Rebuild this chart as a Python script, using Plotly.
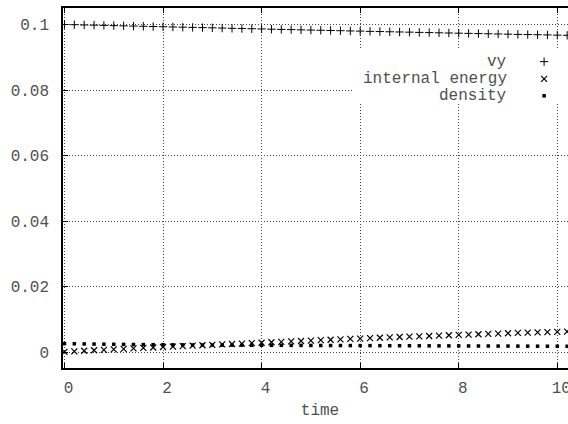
import plotly.graph_objects as go

time = [0.0, 0.2, 0.4, 0.6, 0.8, 1.0, 1.2, 1.4, 1.6, 1.8, 2.0, 2.2, 2.4, 2.6, 2.8,
        3.0, 3.2, 3.4, 3.6, 3.8, 4.0, 4.2, 4.4, 4.6, 4.8, 5.0, 5.2, 5.4, 5.6, 5.8,
        6.0, 6.2, 6.4, 6.6, 6.8, 7.0, 7.2, 7.4, 7.6, 7.8, 8.0, 8.2, 8.4, 8.6, 8.8,
        9.0, 9.2, 9.4, 9.6, 9.8, 10.0, 10.2, 10.4]

vy = [0.10000, 0.09993, 0.09986, 0.09980, 0.09973, 0.09966, 0.09959, 0.09952, 0.09946,
      0.09939, 0.09932, 0.09925, 0.09918, 0.09912, 0.09905, 0.09898, 0.09891, 0.09884,
      0.09878, 0.09871, 0.09864, 0.09857, 0.09850, 0.09844, 0.09837, 0.09830, 0.09824,
      0.09817, 0.09811, 0.09804, 0.09798, 0.09791, 0.09785, 0.09778, 0.09772, 0.09766,
      0.09759, 0.09753, 0.09747, 0.09741, 0.09735, 0.09729, 0.09723, 0.09717, 0.09711,
      0.09705, 0.09699, 0.09693, 0.09688, 0.09682, 0.09676, 0.09670, 0.09664]

internal_energy = [0.00020, 0.00036, 0.00052, 0.00067, 0.00082, 0.00097, 0.00111, 0.00125,
                   0.00139, 0.00153, 0.00167, 0.00181, 0.00194, 0.00207, 0.00220, 0.00233,
                   0.00246, 0.00259, 0.00272, 0.00285, 0.00298, 0.00311, 0.00324, 0.00337,
                   0.00350, 0.00363, 0.00376, 0.00389, 0.00401, 0.00413, 0.00425, 0.00437,
                   0.00449, 0.00460, 0.00471, 0.00482, 0.00493, 0.00504, 0.00515, 0.00526,
                   0.00537, 0.00547, 0.00557, 0.00567, 0.00577, 0.00587, 0.00596, 0.00605,
                   0.00614, 0.00622, 0.00630, 0.00638, 0.00646]

density = [0.00270, 0.00265, 0.00261, 0.00257, 0.00253, 0.00250, 0.00247, 0.00244, 0.00241,
           0.00238, 0.00236, 0.00234, 0.00232, 0.00230, 0.00228, 0.00226, 0.00224, 0.00223,
           0.00222, 0.00221, 0.00220, 0.00219, 0.00218, 0.00217, 0.00216, 0.00215, 0.00214,
           0.00213, 0.00212, 0.00211, 0.00210, 0.00209, 0.00208, 0.00207, 0.00206, 0.00205,
           0.00204, 0.00203, 0.00202, 0.00201, 0.00200, 0.00199, 0.00198, 0.00197, 0.00196,
           0.00195, 0.00194, 0.00193, 0.00192, 0.00191, 0.00190, 0.00189, 0.00188]

series_names = ["vy", "internal energy", "density"]
x_ticks = [0, 2, 4, 6, 8, 10]
y_ticks = [0, 0.02, 0.04, 0.06, 0.08, 0.1]
y_tick_text = ["0", "0.02", "0.04", "0.06", "0.08", "0.1"]

FONT = "Liberation Mono"
TXT = "#505050"
FS = 16

markers = [
    dict(symbol="cross-thin", size=6, line=dict(width=1, color="black"), color="black"),
    dict(symbol="x-thin", size=6, line=dict(width=1.2, color="black"), color="black"),
    dict(symbol="square", size=3.5, color="black", line=dict(width=0)),
]

fig = go.Figure()
for name, ys, mk in zip(series_names, [vy, internal_energy, density], markers):
    fig.add_trace(go.Scatter(x=time, y=ys, mode="markers", name=name, marker=mk,
                             showlegend=False, cliponaxis=True))

# legend box (opaque, hides grid) on an overlay axis in paper-like units
fig.add_trace(go.Scatter(x=[0.564, 0.999, 0.999, 0.564, 0.564], y=[0.736, 0.736, 0.889, 0.889, 0.736],
                         mode="lines", fill="toself", fillcolor="white", line=dict(width=0, color="white"),
                         xaxis="x2", yaxis="y2", showlegend=False, hoverinfo="skip"))

# legend (gnuplot-style: text right-aligned, symbol on the right)
leg_y = [0.851, 0.803, 0.756]
for name, yy, mk in zip(series_names, leg_y, markers):
    fig.add_trace(go.Scatter(x=[0.936], y=[yy], mode="markers", marker=mk,
                             xaxis="x2", yaxis="y2", showlegend=False, hoverinfo="skip"))
    fig.add_annotation(x=0.868, y=yy, xref="paper", yref="paper", text=name,
                       showarrow=False, xanchor="right", yanchor="middle",
                       font=dict(family=FONT, size=FS, color=TXT))

axis_common = dict(showline=True, linecolor="black", linewidth=1.5, mirror="ticks",
                   ticks="inside", ticklen=5, tickcolor="black", tickwidth=1,
                   showgrid=True, gridcolor="#444444", griddash="1px,2px", gridwidth=1,
                   zeroline=False, automargin=False,
                   tickfont=dict(family=FONT, size=FS, color=TXT))

fig.update_layout(
    width=640, height=424,
    margin=dict(l=63, r=63, t=8, b=56),
    paper_bgcolor="white", plot_bgcolor="white",
    xaxis=dict(range=[-0.03, 10.4], tickvals=x_ticks, ticktext=[str(v) for v in x_ticks],
               title=dict(text="time", font=dict(family=FONT, size=FS, color=TXT), standoff=7),
               ticklabelstandoff=4, ticklabelshift=4, **axis_common),
    yaxis=dict(range=[-0.00473, 0.10503], tickvals=y_ticks, ticktext=y_tick_text,
               ticklabelstandoff=9, **axis_common),
    xaxis2=dict(overlaying="x", range=[0, 1], visible=False, domain=[0, 1]),
    yaxis2=dict(overlaying="y", range=[0, 1], visible=False),
    showlegend=False,
)

fig.write_html("out.html",
               post_script="document.body.style.overflow='hidden';document.documentElement.style.overflow='hidden';")
